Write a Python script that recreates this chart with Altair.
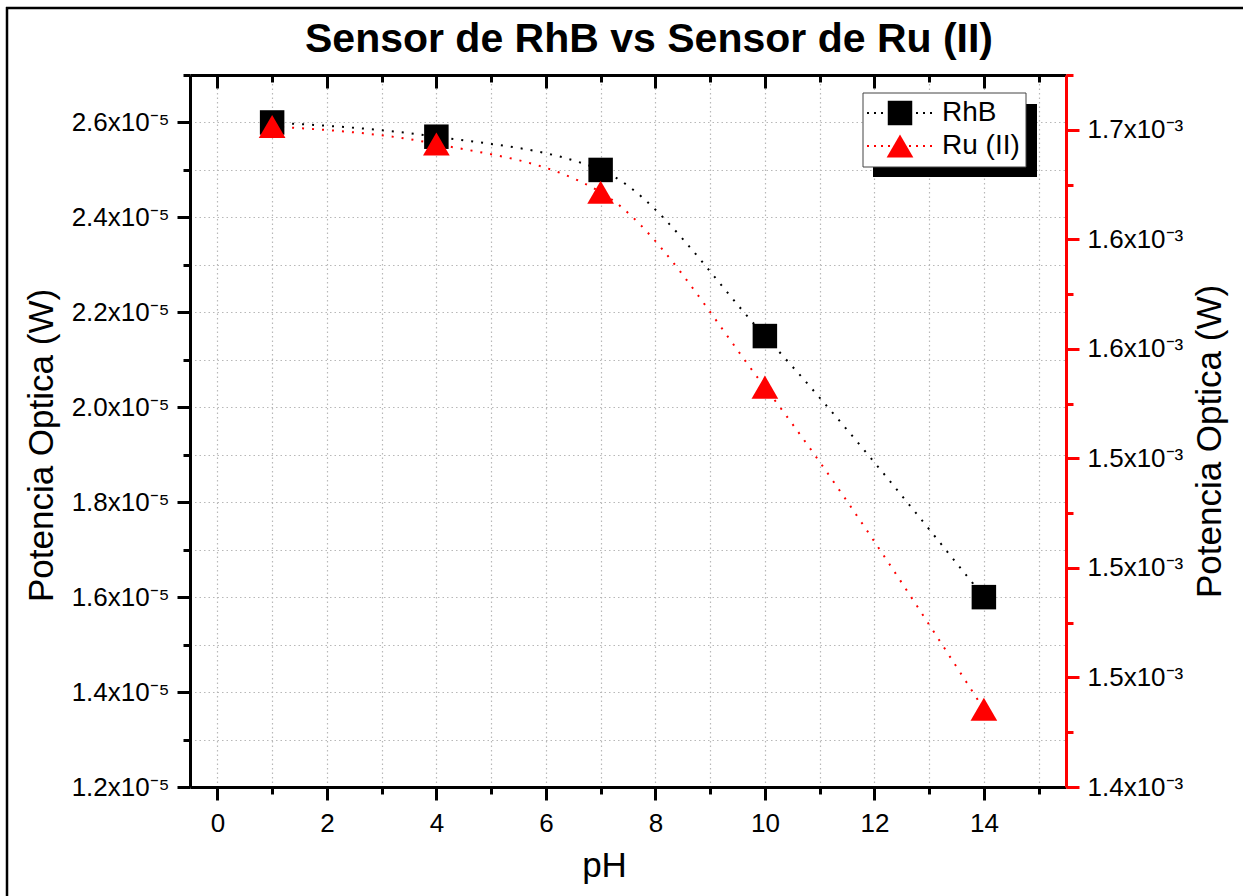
import json
import altair as alt
import pandas as pd

# ---------------- data ----------------
PH = [1, 4, 7, 10, 14]
RHB = [2.60e-5, 2.57e-5, 2.50e-5, 2.15e-5, 1.60e-5]
RU = [1.7015e-3, 1.6935e-3, 1.6715e-3, 1.5825e-3, 1.4355e-3]
SERIES = ["RhB", "Ru (II)"]

TITLE = "Sensor de RhB vs Sensor de Ru (II)"
X_TITLE = "pH"
Y_TITLE = "Potencia Optica (W)"

X_MAJOR = [0, 2, 4, 6, 8, 10, 12, 14]
X_LABELS = ["0", "2", "4", "6", "8", "10", "12", "14"]
X_MINOR = [1, 3, 5, 7, 9, 11, 13, 15]

LEFT_MAJOR = [1.2e-5, 1.4e-5, 1.6e-5, 1.8e-5, 2.0e-5, 2.2e-5, 2.4e-5, 2.6e-5]
LEFT_LABELS = ["1.2x10⁻⁵", "1.4x10⁻⁵", "1.6x10⁻⁵", "1.8x10⁻⁵",
               "2.0x10⁻⁵", "2.2x10⁻⁵", "2.4x10⁻⁵", "2.6x10⁻⁵"]
LEFT_MINOR = [1.3e-5, 1.5e-5, 1.7e-5, 1.9e-5, 2.1e-5, 2.3e-5, 2.5e-5, 2.7e-5]

RIGHT_MAJOR = [1.40e-3, 1.45e-3, 1.50e-3, 1.55e-3, 1.60e-3, 1.65e-3, 1.70e-3]
RIGHT_LABELS = ["1.4x10⁻³", "1.5x10⁻³", "1.5x10⁻³", "1.5x10⁻³",
                "1.6x10⁻³", "1.6x10⁻³", "1.7x10⁻³"]
RIGHT_MINOR = [1.425e-3, 1.475e-3, 1.525e-3, 1.575e-3, 1.625e-3, 1.675e-3, 1.725e-3]

# ---------------- layout ----------------
W, H = 876, 712
PAD = {"left": 190, "top": 75, "right": 177, "bottom": 109}
FONT = "Liberation Sans"
GRID = dict(grid=True, gridColor="#b8b8b8", gridDash=[1.5, 3], gridWidth=1.2)


def label_expr(labels, start, step):
    arr = json.dumps(labels, ensure_ascii=False)
    return f"{arr}[round((datum.value - ({start})) / ({step}))]"


df = pd.DataFrame({"pH": PH, "RhB": RHB, "Ru": RU})

x_scale = alt.Scale(domain=[-0.5, 15.5], nice=False, zero=False)
yl_scale = alt.Scale(domain=[1.2e-5, 2.7e-5], nice=False, zero=False)
yr_scale = alt.Scale(domain=[1.4e-3, 1.725e-3], nice=False, zero=False)

common = dict(
    labelFont=FONT, labelFontSize=26, labelColor="black",
    titleFont=FONT, titleFontSize=35, titleFontWeight="normal", titleColor="black",
    domainWidth=3, tickWidth=3,
)


def minor_axis(orient, values, color="black", offset=0, grid=False):
    kw = dict(orient=orient, values=values, labels=False, domain=False, title=None,
              tickSize=7, tickWidth=3, tickColor=color)
    if offset:
        kw["offset"] = offset
    if grid:
        kw.update(GRID)
    else:
        kw["grid"] = False
    return alt.Axis(**kw)


x_axis_bottom = alt.Axis(
    orient="bottom", values=X_MAJOR, labelExpr=label_expr(X_LABELS, 0, 2),
    tickSize=13, tickColor="black", domainColor="black", labelPadding=10,
    title=X_TITLE, titleX=414, titleY=89, titleBaseline="alphabetic", titleAlign="center",
    **GRID, **common,
)
x_axis_top = alt.Axis(
    orient="bottom", offset=-H, values=X_MAJOR, labels=False, grid=False, title=None,
    tickSize=13, tickColor="black", domainColor="black", **common,
)
y_axis_left = alt.Axis(
    orient="left", values=LEFT_MAJOR, labelExpr=label_expr(LEFT_LABELS, 1.2e-5, 2e-6),
    tickSize=13, tickColor="black", domainColor="black", labelPadding=8,
    title=Y_TITLE, titleX=-138, titleY=370, titleAngle=270,
    titleAlign="center", titleBaseline="alphabetic", **GRID, **common,
)
y_axis_right = alt.Axis(
    orient="right", values=RIGHT_MAJOR, labelExpr=label_expr(RIGHT_LABELS, 1.4e-3, 5e-5),
    tickSize=13, tickColor="red", domainColor="red", grid=False, labelPadding=8,
    title=Y_TITLE, titleX=154, titleY=366, titleAngle=270,
    titleAlign="center", titleBaseline="alphabetic", **common,
)

base = alt.Chart(df)

# axis carriers (invisible), one per axis
ax_x_bottom = base.mark_point(opacity=0).encode(
    x=alt.X("pH:Q", scale=x_scale, axis=x_axis_bottom), y=alt.value(0))
ax_x_top = base.mark_point(opacity=0).encode(
    x=alt.X("pH:Q", scale=x_scale, axis=x_axis_top), y=alt.value(0))
ax_x_bottom_minor = base.mark_point(opacity=0).encode(
    x=alt.X("pH:Q", scale=x_scale, axis=minor_axis("bottom", X_MINOR, grid=True)),
    y=alt.value(0))
ax_x_top_minor = base.mark_point(opacity=0).encode(
    x=alt.X("pH:Q", scale=x_scale, axis=minor_axis("bottom", X_MINOR, offset=-H)),
    y=alt.value(0))
ax_y_left = base.mark_point(opacity=0).encode(
    x=alt.value(0), y=alt.Y("RhB:Q", scale=yl_scale, axis=y_axis_left))
ax_y_left_minor = base.mark_point(opacity=0).encode(
    x=alt.value(0),
    y=alt.Y("RhB:Q", scale=yl_scale, axis=minor_axis("left", LEFT_MINOR, grid=True)))
ax_y_right = base.mark_point(opacity=0).encode(
    x=alt.value(0), y=alt.Y("Ru:Q", scale=yr_scale, axis=y_axis_right))
ax_y_right_minor = base.mark_point(opacity=0).encode(
    x=alt.value(0),
    y=alt.Y("Ru:Q", scale=yr_scale, axis=minor_axis("right", RIGHT_MINOR, color="red")))

# data marks
rhb_line = base.mark_line(interpolate="monotone", color="black", strokeDash=[2, 8],
                          strokeWidth=2).encode(
    x=alt.X("pH:Q", scale=x_scale, axis=None),
    y=alt.Y("RhB:Q", scale=yl_scale, axis=None),
)
rhb_pts = base.mark_point(shape="square", filled=True, size=600, color="black",
                          opacity=1).encode(
    x=alt.X("pH:Q", scale=x_scale, axis=None),
    y=alt.Y("RhB:Q", scale=yl_scale, axis=None),
)
ru_line = base.mark_line(interpolate="monotone", color="red", strokeDash=[2, 8],
                         strokeWidth=2).encode(
    x=alt.X("pH:Q", scale=x_scale, axis=None),
    y=alt.Y("Ru:Q", scale=yr_scale, axis=None),
)
ru_pts = base.mark_point(shape="triangle-up", filled=True, size=713, color="red",
                         opacity=1).encode(
    x=alt.X("pH:Q", scale=x_scale, axis=None),
    y=alt.Y("Ru:Q", scale=yr_scale, axis=None),
)

one = pd.DataFrame({"k": [0]})

# figure border (top and left edges only, kept inside the page)
border_top = alt.Chart(one).mark_rule(color="black", strokeWidth=2.5).encode(
    x=alt.value(-184), x2=alt.value(W + PAD["right"]), y=alt.value(-67)
)
border_left = alt.Chart(one).mark_rule(color="black", strokeWidth=2.5).encode(
    x=alt.value(-183), y=alt.value(-68), y2=alt.value(H + PAD["bottom"])
)

title = alt.Chart(one).mark_text(font=FONT, fontSize=41, fontWeight="bold", align="center",
                                 baseline="alphabetic", color="black").encode(
    x=alt.value(459), y=alt.value(-23), text=alt.value(TITLE)
)

shadow = alt.Chart(one).mark_rect(color="black").encode(
    x=alt.value(683), x2=alt.value(847), y=alt.value(29), y2=alt.value(102)
)
box = alt.Chart(one).mark_rect(fill="white", stroke="#444444", strokeWidth=1).encode(
    x=alt.value(673), x2=alt.value(836), y=alt.value(18), y2=alt.value(92)
)
legend_layers = [shadow, box]
styles = [("black", "square", 600), ("red", "triangle-up", 713)]
rows = [38, 71]
for name, (col, shp, sz), ry in zip(SERIES, styles, rows):
    legend_layers.append(
        alt.Chart(one).mark_rule(color=col, strokeDash=[2, 5], strokeWidth=2).encode(
            x=alt.value(677), x2=alt.value(745), y=alt.value(ry)
        )
    )
    legend_layers.append(
        alt.Chart(one).mark_point(shape=shp, filled=True, size=sz, color=col, opacity=1).encode(
            x=alt.value(710), y=alt.value(ry)
        )
    )
    legend_layers.append(
        alt.Chart(one).mark_text(font=FONT, fontSize=28, align="left", baseline="middle",
                                 color="black").encode(
            x=alt.value(752), y=alt.value(ry), text=alt.value(name)
        )
    )

chart = alt.layer(
    border_top, border_left,
    ax_x_bottom_minor, ax_x_top_minor, ax_y_left_minor, ax_y_right_minor,
    ax_x_bottom, ax_x_top, ax_y_left, ax_y_right,
    rhb_line, ru_line, rhb_pts, ru_pts, title, *legend_layers
).resolve_scale(
    y="independent"
).resolve_axis(
    x="independent", y="independent"
).properties(
    width=W, height=H,
    autosize=alt.AutoSizeParams(type="none"),
    padding=PAD,
    background="white",
).configure_view(stroke=None)

chart.save("out.html", embed_options={"renderer": "svg", "actions": False})
